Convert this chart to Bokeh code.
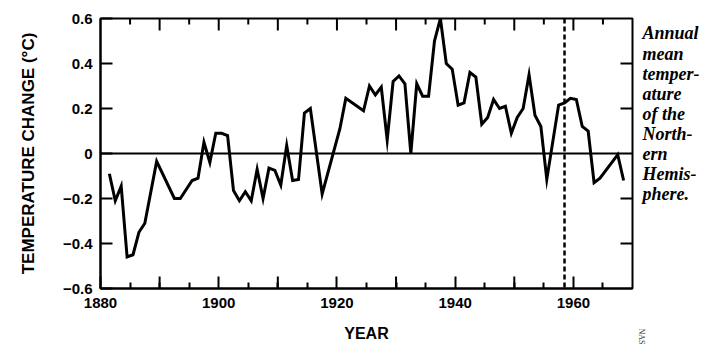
import math
from bokeh.plotting import figure
from bokeh.layouts import row
from bokeh.models import FixedTicker, Span, Range1d
from bokeh.core.properties import value
from bokeh.embed import file_html
from bokeh.resources import INLINE

# ---- data (annual means, plotted at mid-year) ----
years = [1881, 1882, 1883, 1884, 1885, 1886, 1887, 1889, 1892, 1893,
         1895, 1896, 1897, 1898, 1899, 1900, 1901, 1902, 1903, 1904,
         1905, 1906, 1907, 1908, 1909, 1910, 1911, 1912, 1913, 1914,
         1915, 1917, 1920, 1921, 1924, 1925, 1926, 1927, 1928, 1929,
         1930, 1931, 1932, 1933, 1934, 1935, 1936, 1937, 1938, 1939,
         1940, 1941, 1942, 1943, 1944, 1945, 1946, 1947, 1948, 1949,
         1950, 1951, 1952, 1953, 1954, 1955, 1957, 1958, 1959, 1960,
         1961, 1962, 1963, 1964, 1967, 1968]
temps = [-0.09, -0.21, -0.145, -0.46, -0.45, -0.35, -0.31, -0.035, -0.2, -0.2,
         -0.12, -0.11, 0.05, -0.04, 0.09, 0.09, 0.08, -0.165, -0.21, -0.17,
         -0.21, -0.07, -0.2, -0.065, -0.075, -0.14, 0.035, -0.12, -0.115, 0.18,
         0.2, -0.18, 0.11, 0.245, 0.19, 0.3, 0.26, 0.295, 0.06, 0.32,
         0.345, 0.31, 0.0, 0.31, 0.255, 0.255, 0.5, 0.6, 0.4, 0.375,
         0.215, 0.225, 0.36, 0.34, 0.13, 0.16, 0.24, 0.2, 0.21, 0.09,
         0.16, 0.2, 0.35, 0.17, 0.12, -0.115, 0.215, 0.225, 0.245, 0.24,
         0.12, 0.1, -0.13, -0.11, -0.005, -0.12]

x_start, x_end = 1880, 1970
x_labelled = [1880, 1900, 1920, 1940, 1960]
x_decades = [1890, 1910, 1930, 1950]
x_halves = [1885, 1895, 1905, 1915, 1925, 1935, 1945, 1955, 1965]
y_ticks = [-0.6, -0.4, -0.2, 0, 0.2, 0.4, 0.6]
y_tick_labels = ["\u22120.6", "\u22120.4", "\u22120.2", "0", "0.2", "0.4", "0.6"]
y_inner = [-0.4, -0.2, 0.2, 0.4]
marker_year = 1958
note_lines = ["Annual", "mean", "temper-", "ature", "of the", "North-", "ern", "Hemis-", "phere."]
credit = "NAS"

SANS = "Liberation Sans"
SERIF = "Liberation Serif"
H = 347
FRAME_TOP, FRAME_BOTTOM = 18, 289   # page pixels of the plotting box

p = figure(width=634, height=H, output_backend="svg", toolbar_location=None,
           x_range=Range1d(x_start, x_end), y_range=Range1d(-0.6, 0.6),
           min_border_left=100, min_border_right=2, min_border_top=FRAME_TOP,
           min_border_bottom=H - FRAME_BOTTOM,
           x_axis_label="YEAR", y_axis_label="TEMPERATURE CHANGE (\u00b0C)")
p.grid.visible = False
p.outline_line_color = "black"
p.outline_line_width = 2
p.background_fill_color = "white"
p.border_fill_color = "white"


def style_axis(ax):
    ax.axis_line_color = "black"
    ax.axis_line_width = 2
    ax.major_tick_line_color = "black"
    ax.major_tick_line_width = 2
    ax.minor_tick_line_color = "black"
    ax.minor_tick_line_width = 2
    ax.major_tick_in = 12
    ax.major_tick_out = 0
    ax.minor_tick_in = 6
    ax.minor_tick_out = 0
    ax.major_label_text_font = SANS
    ax.major_label_text_font_style = "bold"
    ax.major_label_text_color = "black"
    ax.axis_label_text_font = SANS
    ax.axis_label_text_font_style = "bold"
    ax.axis_label_text_color = "black"


xa = p.xaxis[0]
xa.ticker = FixedTicker(ticks=x_labelled, minor_ticks=x_halves + x_decades)
style_axis(xa)
xa.major_label_text_font_size = "15px"
xa.major_label_standoff = 9
xa.axis_label_text_font_size = "16px"
xa.axis_label_standoff = 14

ya = p.yaxis[0]
ya.ticker = FixedTicker(ticks=y_ticks, minor_ticks=[])
ya.major_label_overrides = {t: s for t, s in zip(y_ticks, y_tick_labels)}
style_axis(ya)
ya.major_label_text_font_size = "15px"
ya.major_label_standoff = 8
ya.axis_label_text_font_size = "17px"
ya.axis_label_standoff = 22

# inward ticks on the remaining sides of the box
tick_kw = dict(line_color="black", line_width=2, length_units="screen")
top_long = [t for t in x_labelled + x_decades if t != x_start]
p.ray(x=x_decades, y=[-0.6] * len(x_decades), length=12, angle=math.pi / 2, **tick_kw)
p.ray(x=top_long, y=[0.6] * len(top_long), length=12, angle=-math.pi / 2, **tick_kw)
p.ray(x=x_halves, y=[0.6] * len(x_halves), length=6, angle=-math.pi / 2, **tick_kw)
p.ray(x=[x_end] * len(y_inner), y=y_inner, length=12, angle=math.pi, **tick_kw)

p.add_layout(Span(location=0, dimension="width", line_color="black", line_width=2))
p.add_layout(Span(location=marker_year + 0.5, dimension="height", line_color="black",
                  line_width=2.5, line_dash="5 3"))

p.line([y + 0.5 for y in years], temps, line_color="black", line_width=3, line_join="miter")

# side note panel: its box is aligned with the main plot box; y in page pixels
q = figure(width=74, height=H, output_backend="svg", toolbar_location=None,
           x_range=Range1d(0, 74), y_range=Range1d(FRAME_BOTTOM, FRAME_TOP),
           min_border_left=0, min_border_right=0, min_border_top=FRAME_TOP,
           min_border_bottom=H - FRAME_BOTTOM)
q.yaxis.visible = False
q.grid.visible = False
q.outline_line_color = None
q.background_fill_color = "white"
q.border_fill_color = "white"
qx = q.xaxis[0]
qx.ticker = FixedTicker(ticks=[2], minor_ticks=[])
qx.major_label_overrides = {2: credit}
qx.major_label_orientation = -math.pi / 2
qx.major_label_text_font = SERIF
qx.major_label_text_font_size = "8px"
qx.major_label_text_color = "#333333"
qx.major_label_standoff = 34
qx.axis_line_color = None
qx.major_tick_line_color = None
qx.minor_tick_line_color = None

q.text(x=[8] * len(note_lines), y=[33 + 20.2 * i for i in range(len(note_lines))], text=note_lines,
       text_font=value(SERIF), text_font_style="bold italic", text_font_size="18px",
       text_color="black", text_baseline="alphabetic", text_align="left")

layout = row(p, q)
open("out.html", "w").write(file_html(layout, INLINE))
